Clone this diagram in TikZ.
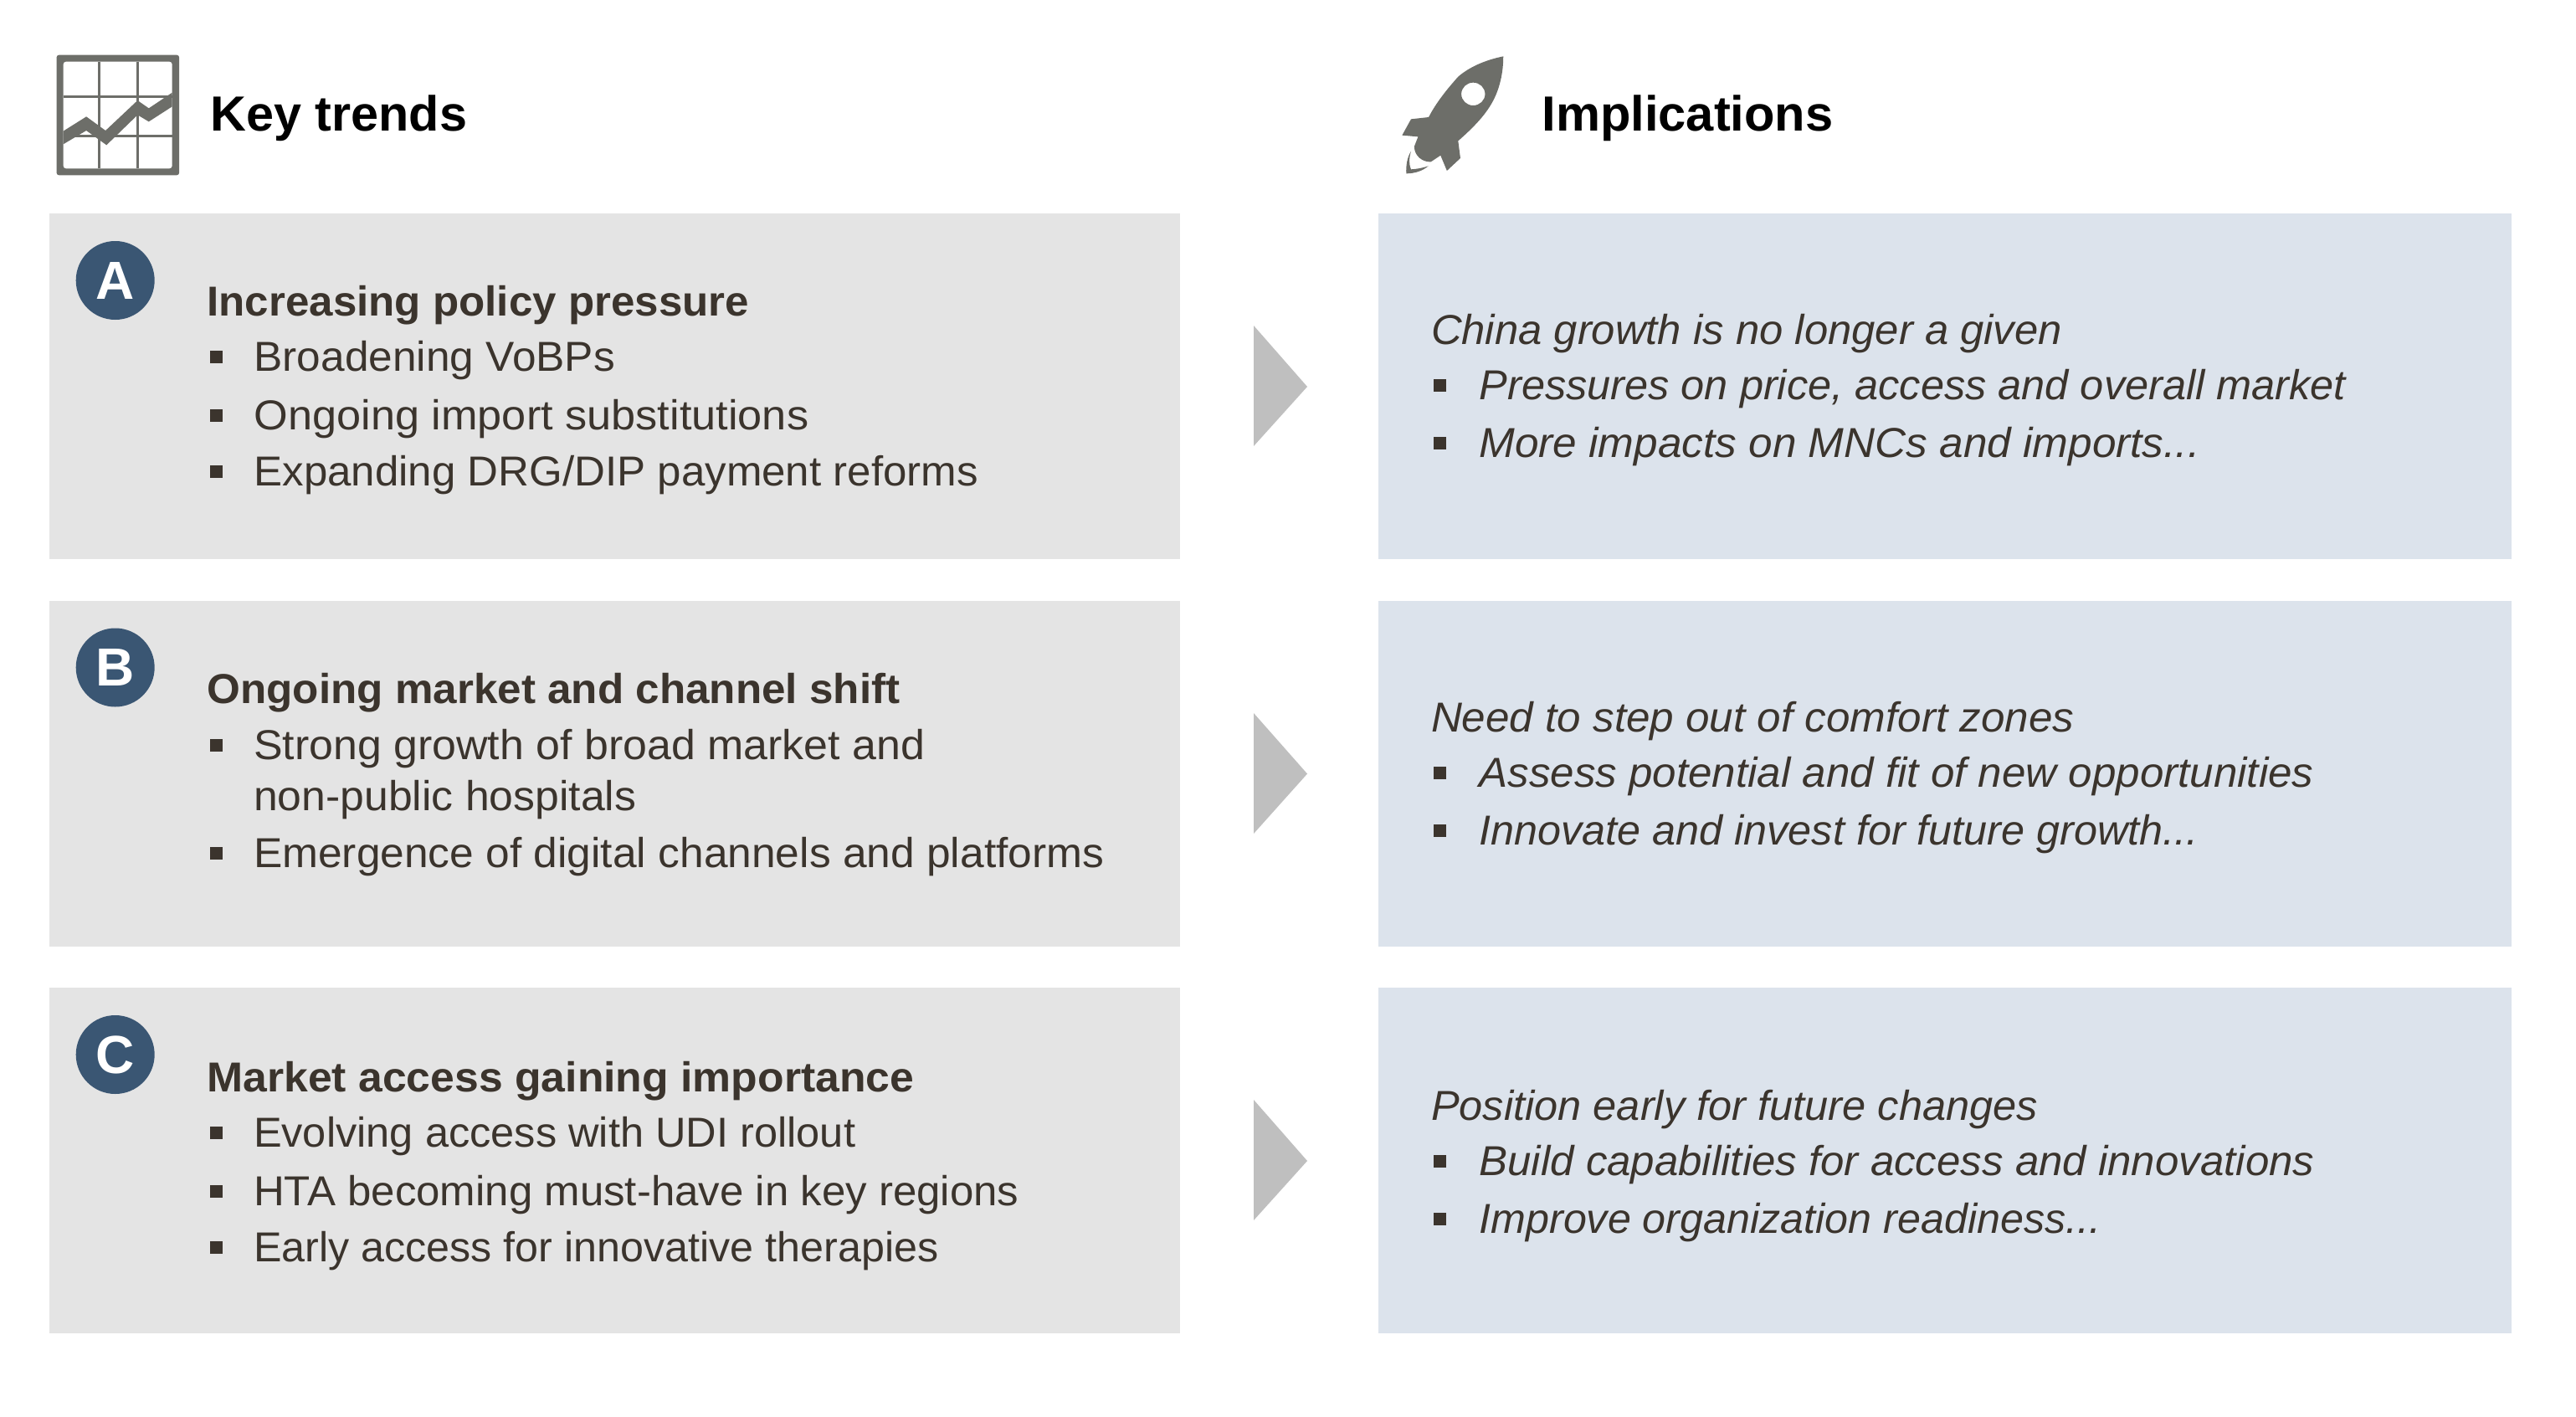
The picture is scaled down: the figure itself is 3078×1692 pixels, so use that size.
\documentclass[tikz,border=0pt]{standalone}
\usepackage{fontspec}
\usepackage{graphicx}
\setmainfont{Liberation Sans}
\definecolor{graybox}{HTML}{E4E4E4}
\definecolor{bluebox}{HTML}{DCE3EC}
\definecolor{badge}{HTML}{3A5673}
\definecolor{iconc}{HTML}{6D6E69}
\definecolor{arrowc}{HTML}{BFBFBF}
\definecolor{txt}{HTML}{3B342D}
\newcommand{\sx}[2]{\scalebox{#1}[1]{#2}}
\tikzset{
 panel/.style={anchor=north west,inner sep=0,outer sep=0,minimum width=#1,minimum height=206.5pt},
 leftbox/.style={panel=675.5pt,fill=graybox},
 rightbox/.style={panel=677pt,fill=bluebox},
 tx/.style={anchor=base west,inner sep=0,outer sep=0,text=txt,font=\fontsize{25pt}{30pt}\selectfont},
 hd/.style={tx,font=\fontsize{25pt}{30pt}\selectfont\bfseries},
 it/.style={tx,font=\fontsize{25pt}{30pt}\selectfont\itshape},
 ttl/.style={anchor=base west,inner sep=0,outer sep=0,text=black,font=\fontsize{29.5pt}{34pt}\selectfont\bfseries},
 bul/.style={fill=txt,minimum size=7.5pt,inner sep=0,outer sep=0,anchor=center},
 badgec/.style={circle,fill=badge,text=white,minimum size=47pt,inner sep=0,font=\fontsize{32pt}{34pt}\selectfont\bfseries},
 chev/.style={fill=arrowc},
 icn/.style={fill=iconc,draw=none}
}
\begin{document}
\begin{tikzpicture}[x=0.5pt,y=-0.5pt]
\useasboundingbox (0,0) rectangle (3078,1692);
% panels
\node[leftbox] (l1) at (59,255) {};
\node[leftbox] (l2) at (59,717.5) {};
\node[leftbox] (l3) at (59,1180) {};
\node[rightbox] (r1) at (1647,255) {};
\node[rightbox] (r2) at (1647,717.5) {};
\node[rightbox] (r3) at (1647,1180) {};
% chevrons
\fill[chev] (1498,389) -- (1562,462) -- (1498,533) -- cycle;
\fill[chev] (1498,852) -- (1562,924.5) -- (1498,996) -- cycle;
\fill[chev] (1498,1314) -- (1562,1387) -- (1498,1458) -- cycle;
% badges
\node[badgec] (ba) at (137.7,335) {A};
\node[badgec] (bb) at (137.7,797.5) {B};
\node[badgec] (bc) at (137.7,1260) {C};
% titles
\node[ttl] (t1) at (251.5,156.5) {\sx{1.006}{Key trends}};
\node[ttl] (t2) at (1842.5,156.5) {\sx{1.011}{Implications}};
% chart icon
\begin{scope}[shift={(40,40)},xscale=1/2.613,yscale=1/3]
\fill[icn,rounded corners=1.5pt,even odd rule] (72,77) rectangle (455,508) (93,101) rectangle (433,484);
\foreach \gx in {205,325}{\draw[iconc,line width=1.6pt] (\gx,101) -- (\gx,484);}
\foreach \gy in {226,367}{\draw[iconc,line width=1.4pt] (93,\gy) -- (433,\gy);}
\fill[icn] (93,350) -- (165,298) -- (225,348) -- (325,240) -- (360,268) -- (433,212) -- (433,262) -- (360,316) -- (325,292) -- (228,400) -- (165,348) -- (93,397) -- cycle;
\end{scope}
% rocket icon
\begin{scope}[shift={(1660,40)},xscale=1/2.613,yscale=1/3]
\fill[icn,even odd rule] (356,82) .. controls (300,95) and (250,120) .. (215,155)
 .. controls (180,200) and (145,250) .. (123,300) -- (68,307) -- (40,365) -- (90,370) -- (78,405)
 .. controls (78,440) and (105,462) .. (130,460) -- (160,437) -- (180,492) -- (222,447) -- (215,385)
 .. controls (255,345) and (295,300) .. (320,250) .. controls (345,200) and (356,140) .. (356,82) -- cycle
 (262,217) ellipse [x radius=37,y radius=41];
\fill[icn] (68,422) .. controls (55,445) and (52,475) .. (53,502) .. controls (80,502) and (105,492) .. (122,475)
 .. controls (105,482) and (85,486) .. (68,487) .. controls (60,465) and (62,445) .. (68,422) -- cycle;
\end{scope}
% row A
\node[hd] (a0) at (247.5,377) {\sx{1.022}{Increasing policy pressure}};
\node[bul] (ab1) at (258,426) {}; \node[tx] (a1) at (303.5,443) {\sx{1.028}{Broadening VoBPs}};
\node[bul] (ab2) at (258,496) {}; \node[tx] (a2) at (303.5,513) {\sx{1.046}{Ongoing import substitutions}};
\node[bul] (ab3) at (258,563) {}; \node[tx] (a3) at (303.5,580) {\sx{1.021}{Expanding DRG/DIP payment reforms}};
% row B
\node[hd] (b0) at (247.5,840) {\sx{1.024}{Ongoing market and channel shift}};
\node[bul] (bb1) at (258,890) {}; \node[tx] (b1) at (303,907) {\sx{1.038}{Strong growth of broad market and}};
\node[tx] (b1x) at (303,968) {\sx{1.035}{non-public hospitals}};
\node[bul] (bb2) at (258,1019) {}; \node[tx] (b2) at (303,1036) {\sx{1.03}{Emergence of digital channels and platforms}};
% row C
\node[hd] (c0) at (247.5,1304) {\sx{1.034}{Market access gaining importance}};
\node[bul] (cb1) at (258,1353) {}; \node[tx] (c1) at (303,1370) {\sx{1.011}{Evolving access with UDI rollout}};
\node[bul] (cb2) at (258,1423) {}; \node[tx] (c2) at (303,1440) {\sx{1.02}{HTA becoming must-have in key regions}};
\node[bul] (cb3) at (258,1490) {}; \node[tx] (c3) at (303,1507) {\sx{1.005}{Early access for innovative therapies}};
% right A
\node[it] (d0) at (1710,411) {\sx{1.016}{China growth is no longer a given}};
\node[bul] (db1) at (1720.5,460) {}; \node[it] (d1) at (1767.5,477) {\sx{1.01}{Pressures on price, access and overall market}};
\node[bul] (db2) at (1720.5,529) {}; \node[it] (d2) at (1767.5,546) {\sx{1.026}{More impacts on MNCs and imports...}};
% right B
\node[it] (e0) at (1710,874) {\sx{1.024}{Need to step out of comfort zones}};
\node[bul] (eb1) at (1720.5,923) {}; \node[it] (e1) at (1767.5,940) {\sx{1.022}{Assess potential and fit of new opportunities}};
\node[bul] (eb2) at (1720.5,992) {}; \node[it] (e2) at (1767.5,1009) {\sx{1.007}{Innovate and invest for future growth...}};
% right C
\node[it] (f0) at (1710,1338) {\sx{1.011}{Position early for future changes}};
\node[bul] (fb1) at (1720.5,1387) {}; \node[it] (f1) at (1767.5,1404) {\sx{1.02}{Build capabilities for access and innovations}};
\node[bul] (fb2) at (1720.5,1456) {}; \node[it] (f2) at (1767.5,1473) {\sx{1.005}{Improve organization readiness...}};
\end{tikzpicture}
\end{document}
